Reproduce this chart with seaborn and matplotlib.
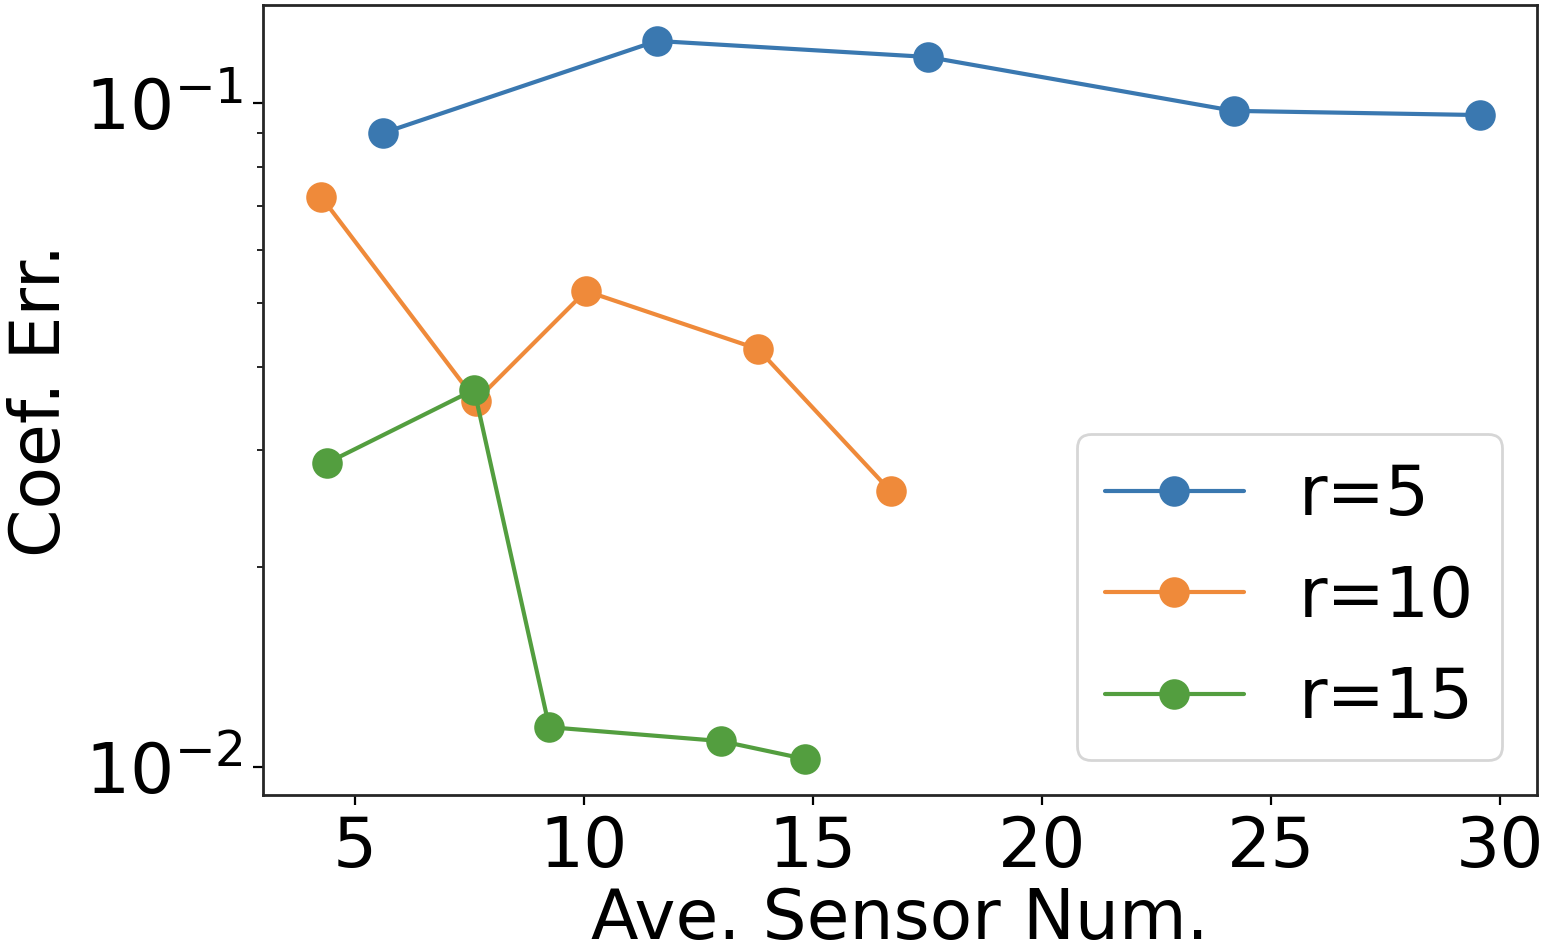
import matplotlib
matplotlib.use("Agg")
import matplotlib.pyplot as plt
from matplotlib.ticker import MultipleLocator
import numpy as np
import pandas as pd
import seaborn as sns

# values
r_labels = ["r=5", "r=10", "r=15"]
sensor_r5 = [5.61, 11.59, 17.51, 24.19, 29.56]
err_r5 = [0.0901, 0.124, 0.1173, 0.0973, 0.0959]
sensor_r10 = [4.26, 7.64, 10.04, 13.80, 16.70]
err_r10 = [0.0722, 0.0356, 0.0521, 0.0426, 0.0260]
sensor_r15 = [4.39, 7.60, 9.24, 12.99, 14.83]
err_r15 = [0.0287, 0.0370, 0.01148, 0.01094, 0.01028]

colors = ["#3a78b0", "#ef8a3a", "#539e3f"]

df = pd.concat([
    pd.DataFrame({"sensor": sensor_r5, "err": err_r5, "r": r_labels[0]}),
    pd.DataFrame({"sensor": sensor_r10, "err": err_r10, "r": r_labels[1]}),
    pd.DataFrame({"sensor": sensor_r15, "err": err_r15, "r": r_labels[2]}),
], ignore_index=True)

sns.set_style("ticks", {"axes.edgecolor": "#262626", "text.color": "black",
                        "axes.labelcolor": "black", "xtick.color": "black",
                        "ytick.color": "black"})
plt.rcParams["font.family"] = ["DejaVu Sans"]
fs = 25

fig, ax = plt.subplots(figsize=(7.77, 4.76), dpi=200)
fig.subplots_adjust(left=0.169, right=0.989, top=0.9947, bottom=0.165)

sns.lineplot(data=df, x="sensor", y="err", hue="r", palette=colors, marker="o",
             markersize=11, markeredgewidth=0, linewidth=1.5, sort=False, ax=ax)
ax.set_yscale("log")
ax.set_xlim(2.98, 30.81)
ax.xaxis.set_major_locator(MultipleLocator(5))

for sp in ax.spines.values():
    sp.set_color("#262626")
    sp.set_linewidth(1.0)

ax.set_xlabel("Ave. Sensor Num.", fontsize=fs, labelpad=1.5)
ax.set_ylabel("Coef. Err.", fontsize=fs, labelpad=4)
ax.tick_params(axis="both", which="major", labelsize=fs, length=3.5, width=0.8,
               colors="black")
ax.tick_params(axis="y", which="minor", length=2, width=0.6, colors="black")

handles, labels = ax.get_legend_handles_labels()
ax.legend(handles, labels, loc="lower right", fontsize=fs, frameon=True,
          framealpha=0.8, fancybox=True)

fig.savefig("out.png", dpi=200)
